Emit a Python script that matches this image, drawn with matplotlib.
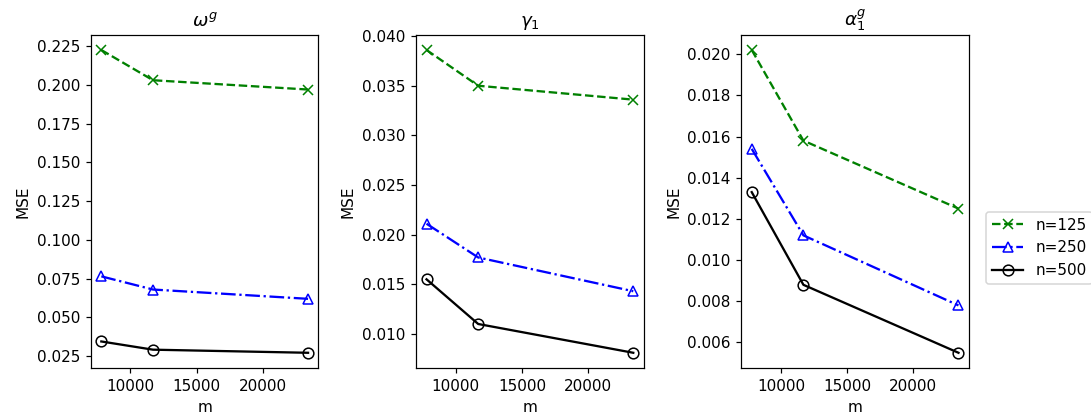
import numpy as np
import matplotlib.pyplot as plt

m = [7800, 11700, 23400]
titles = [r"$\omega^g$", r"$\gamma_1$", r"$\alpha_1^g$"]

omega_125 = [0.2225, 0.2030, 0.1970]
omega_250 = [0.0765, 0.0680, 0.0620]
omega_500 = [0.0345, 0.0292, 0.0272]

gamma_125 = [0.0386, 0.0350, 0.0336]
gamma_250 = [0.0211, 0.0177, 0.0143]
gamma_500 = [0.0155, 0.0110, 0.0081]

alpha_125 = [0.0202, 0.0158, 0.0125]
alpha_250 = [0.0154, 0.0112, 0.0078]
alpha_500 = [0.0133, 0.0088, 0.0055]

panels = [
    (omega_125, omega_250, omega_500),
    (gamma_125, gamma_250, gamma_500),
    (alpha_125, alpha_250, alpha_500),
]

dpi = 110
fig, axs = plt.subplots(1, 3, figsize=(1091 / dpi, 420 / dpi), dpi=dpi)
fig.subplots_adjust(left=0.0834, right=0.888, top=0.917, bottom=0.124, wspace=0.43)

for ax, title, (a, b, c) in zip(axs, titles, panels):
    ax.plot(m, a, color="green", ls="--", marker="x", ms=7, mfc="none", label="n=125")
    ax.plot(m, b, color="blue", ls="-.", marker="^", ms=7, mfc="none", label="n=250")
    ax.plot(m, c, color="black", ls="-", marker="o", ms=7, mfc="none", label="n=500")
    ax.set_title(title)
    ax.set_xlabel("m")
    ax.set_ylabel("MSE")

handles, labels = axs[0].get_legend_handles_labels()
fig.legend(handles, labels, loc="center left", bbox_to_anchor=(0.897, 0.41))

fig.savefig("out.png", dpi=dpi)
